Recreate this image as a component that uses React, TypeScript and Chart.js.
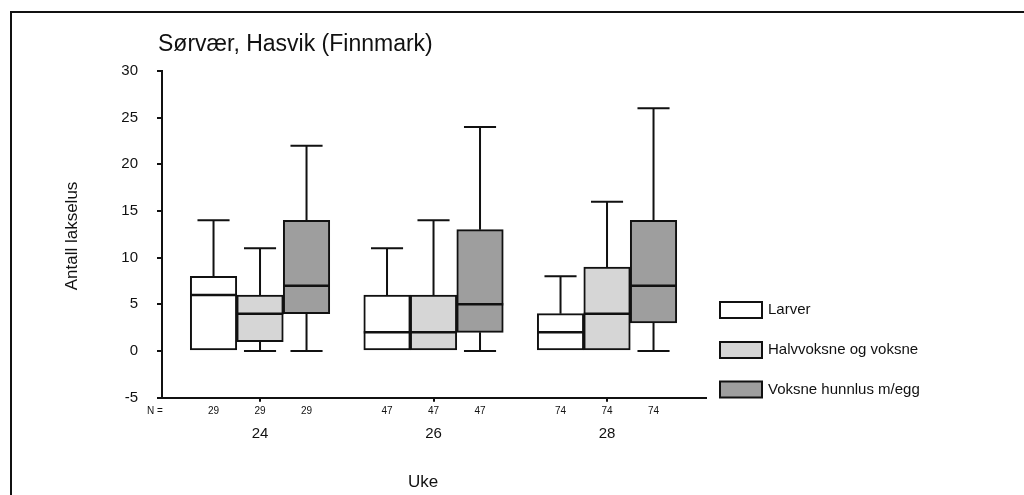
import React, { useEffect, useRef } from "react";
import { Chart, registerables } from "chart.js";

Chart.register(...registerables);

const weeks = [24, 26, 28];
const nCounts = [29, 47, 74];
const seriesNames = ["Larver", "Halvvoksne og voksne", "Voksne hunnlus m/egg"];
const seriesColors = ["#ffffff", "#d6d6d6", "#9e9e9e"];

const larverMin = [0, 0, 0];
const larverQ1 = [0, 0, 0];
const larverMed = [6, 2, 2];
const larverQ3 = [8, 6, 4];
const larverMax = [14, 11, 8];

const halvMin = [0, 0, 0];
const halvQ1 = [1, 0, 0];
const halvMed = [4, 2, 4];
const halvQ3 = [6, 6, 9];
const halvMax = [11, 14, 16];

const voksneMin = [0, 0, 0];
const voksneQ1 = [4, 2, 3];
const voksneMed = [7, 5, 7];
const voksneQ3 = [14, 13, 14];
const voksneMax = [22, 24, 26];

const yTicks = [-5, 0, 5, 10, 15, 20, 25, 30];

const FONT = "'Liberation Sans', Arial, sans-serif";

const seriesStats = [
  { min: larverMin, q1: larverQ1, med: larverMed, q3: larverQ3, max: larverMax },
  { min: halvMin, q1: halvQ1, med: halvMed, q3: halvQ3, max: halvMax },
  { min: voksneMin, q1: voksneQ1, med: voksneMed, q3: voksneQ3, max: voksneMax },
];

const boxPlugin = {
  id: "boxWhiskers",
  beforeDraw(chart: any) {
    const ctx = chart.ctx;
    ctx.save();
    ctx.fillStyle = "#ffffff";
    ctx.fillRect(0, 0, chart.width, chart.height);
    ctx.strokeStyle = "#111";
    ctx.lineWidth = 2;
    ctx.strokeRect(11, 12, 1200, 700);
    ctx.restore();
  },
  afterDatasetsDraw(chart: any) {
    const ctx = chart.ctx;
    const yScale = chart.scales.y;
    ctx.save();
    ctx.strokeStyle = "#111";
    chart.data.datasets.forEach((ds: any, di: number) => {
      const meta = chart.getDatasetMeta(di);
      const st = seriesStats[di];
      meta.data.forEach((el: any, i: number) => {
        const x = el.x;
        const w = el.width;
        const cap = w * 0.69;
        const yMax = yScale.getPixelForValue(st.max[i]);
        const yQ3 = yScale.getPixelForValue(st.q3[i]);
        const yQ1 = yScale.getPixelForValue(st.q1[i]);
        const yMin = yScale.getPixelForValue(st.min[i]);
        const yMed = yScale.getPixelForValue(st.med[i]);
        ctx.lineWidth = 2;
        if (st.max[i] > st.q3[i]) {
          ctx.beginPath();
          ctx.moveTo(x, yQ3);
          ctx.lineTo(x, yMax);
          ctx.moveTo(x - cap / 2, yMax);
          ctx.lineTo(x + cap / 2, yMax);
          ctx.stroke();
        }
        if (st.min[i] < st.q1[i]) {
          ctx.beginPath();
          ctx.moveTo(x, yQ1);
          ctx.lineTo(x, yMin);
          ctx.moveTo(x - cap / 2, yMin);
          ctx.lineTo(x + cap / 2, yMin);
          ctx.stroke();
        }
        ctx.lineWidth = 2.5;
        ctx.beginPath();
        ctx.moveTo(x - w / 2, yMed);
        ctx.lineTo(x + w / 2, yMed);
        ctx.stroke();
      });
    });
    ctx.restore();
  },
  afterDraw(chart: any) {
    const ctx = chart.ctx;
    ctx.save();
    ctx.fillStyle = "#111";
    // Title
    ctx.font = `23px ${FONT}`;
    ctx.textAlign = "left";
    ctx.textBaseline = "middle";
    ctx.fillText("Sørvær, Hasvik (Finnmark)", 158, 45);

    // N row
    ctx.font = `10px ${FONT}`;
    ctx.textAlign = "left";
    ctx.fillText("N =", 147, 411);
    ctx.textAlign = "center";
    chart.data.datasets.forEach((ds: any, di: number) => {
      const meta = chart.getDatasetMeta(di);
      meta.data.forEach((el: any, i: number) => {
        ctx.fillText(String(nCounts[i]), el.x, 411);
      });
    });

    // X title
    ctx.font = `17px ${FONT}`;
    ctx.textAlign = "center";
    ctx.fillText("Uke", 423, 482);

    // Y title
    ctx.save();
    ctx.translate(72, 236);
    ctx.rotate(-Math.PI / 2);
    ctx.font = `17px ${FONT}`;
    ctx.fillText("Antall lakselus", 0, 0);
    ctx.restore();

    // Legend
    const legendY = [310, 350, 389.5];
    seriesNames.forEach((name, k) => {
      const y = legendY[k];
      ctx.fillStyle = seriesColors[k];
      ctx.fillRect(720, y - 8, 42, 16);
      ctx.strokeStyle = "#111";
      ctx.lineWidth = 2;
      ctx.strokeRect(720, y - 8, 42, 16);
      ctx.fillStyle = "#111";
      ctx.font = `15px ${FONT}`;
      ctx.textAlign = "left";
      ctx.textBaseline = "middle";
      ctx.fillText(name, 768, y);
    });
    ctx.restore();
  },
};

export default function App() {
  const canvasRef = useRef<HTMLCanvasElement | null>(null);

  useEffect(() => {
    if (!canvasRef.current) return;
    const datasets = seriesNames.map((name, k) => ({
      label: name,
      data: weeks.map((w, i) => ({ x: w, y: [seriesStats[k].q1[i], seriesStats[k].q3[i]] })),
      backgroundColor: seriesColors[k],
      borderColor: "#111",
      borderWidth: 2,
      borderSkipped: false,
      barThickness: 46.5,
    }));

    const chart = new Chart(canvasRef.current, {
      type: "bar",
      data: { datasets: datasets as any },
      options: {
        animation: false,
        responsive: false,
        devicePixelRatio: 1,
        layout: { padding: { left: 0, top: 71, right: 318, bottom: 0 } },
        plugins: {
          legend: { display: false },
          tooltip: { enabled: false },
          title: { display: false },
        },
        scales: {
          x: {
            type: "linear",
            offset: false,
            min: 22.87,
            max: 29.141,
            afterFit: (scale: any) => {
              scale.height = 97.3;
            },
            afterBuildTicks: (scale: any) => {
              scale.ticks = weeks.map((w) => ({ value: w }));
            },
            grid: {
              display: true,
              offset: false,
              drawOnChartArea: false,
              drawTicks: true,
              tickLength: 4,
              color: "#111",
              lineWidth: 2,
            },
            border: { display: true, color: "#111", width: 2 },
            ticks: {
              color: "#111",
              font: { family: FONT, size: 15 },
              padding: 23,
              maxRotation: 0,
              autoSkip: false,
              callback: (v: any) => String(v),
            },
          },
          y: {
            type: "linear",
            min: -5,
            max: 30,
            afterFit: (scale: any) => {
              scale.width = 162;
            },
            afterBuildTicks: (scale: any) => {
              scale.ticks = yTicks.map((v) => ({ value: v }));
            },
            grid: {
              display: true,
              drawOnChartArea: false,
              drawTicks: true,
              tickLength: 5,
              color: "#111",
              lineWidth: 2,
            },
            border: { display: true, color: "#111", width: 2 },
            ticks: {
              color: "#111",
              font: { family: FONT, size: 15 },
              padding: 19,
              callback: (v: any) => String(v),
            },
          },
        },
      },
      plugins: [boxPlugin],
    });
    return () => chart.destroy();
  }, []);

  return (
    <div style={{ position: "fixed", left: 0, top: 0, width: 1024, height: 495, background: "#fff" }}>
      <canvas ref={canvasRef} width={1024} height={495} style={{ width: 1024, height: 495, display: "block" }} />
    </div>
  );
}
